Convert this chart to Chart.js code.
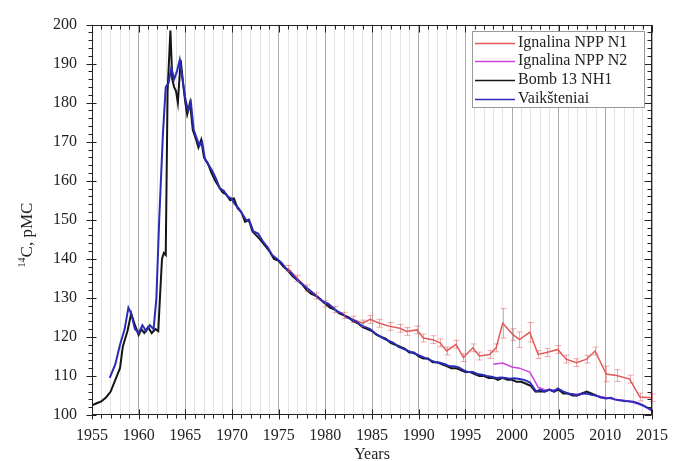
<!DOCTYPE html>
<html><head><meta charset="utf-8">
<script src="https://cdn.jsdelivr.net/npm/chart.js@4/dist/chart.umd.min.js"></script>
<style>html,body{margin:0;padding:0;background:#fff}canvas{display:block}</style>
</head><body>
<canvas id="c" width="679" height="461"></canvas>
<script>
// ---- data ----
const xTickYears = [1955,1960,1965,1970,1975,1980,1985,1990,1995,2000,2005,2010,2015];
const yTickValues = [100,110,120,130,140,150,160,170,180,190,200];

const bombYears = [1955.0,1955.5,1956.0,1956.5,1957.0,1957.5,1958.0,1958.3,1958.8,1959.2,1959.6,1960.0,1960.3,1960.6,1961.0,1961.4,1961.8,1962.1,1962.3,1962.5,1962.7,1962.9,1963.1,1963.4,1963.6,1963.8,1964.0,1964.2,1964.5,1964.8,1965.0,1965.2,1965.5,1965.8,1966.1,1966.4,1966.7,1967.0,1967.4,1967.8,1968.2,1968.6,1969.0,1969.4,1969.8,1970.2,1970.6,1971.0,1971.4,1971.8,1972.2,1972.6,1973.0,1973.5,1974.0,1974.5,1975.0,1975.5,1976.0,1976.5,1977.0,1977.5,1978.0,1978.5,1979.0,1979.5,1980.0,1980.5,1981.0,1981.5,1982.0,1982.5,1983.0,1983.5,1984.0,1984.5,1985.0,1985.5,1986.0,1986.5,1987.0,1987.5,1988.0,1988.5,1989.0,1989.5,1990.0,1990.5,1991.0,1991.5,1992.0,1992.5,1993.0,1993.5,1994.0,1994.5,1995.0,1995.5,1996.0,1996.5,1997.0,1997.5,1998.0,1998.5,1999.0,1999.5,2000.0,2000.5,2001.0,2001.5,2002.0,2002.5,2003.0,2003.5,2004.0,2004.5,2005.0,2005.5,2006.0,2006.5,2007.0,2007.5,2008.0,2008.5,2009.0];
const bombValues = [102.5,103,103.5,104.5,106,109,112,117.5,121.5,126,123,120.5,122,121,122.5,121,122,121.5,131,140,141.5,141,183,198.5,186,184,183,180,191,184,180,177,180,173,171,168.5,170.5,166,164.5,162,160,158.5,157,156.5,155,155.5,153,152,149.5,150,147,146,145,143.5,142,140,139.5,138,137,135.5,134.5,133.5,132,131,130.5,129.5,128.5,127.5,127,126,125.5,125,124,123.5,122.5,122,121.5,120.5,120,119.5,118.5,118,117.5,117,116,116,115,114.5,114.5,113.5,113.5,113,112.5,112,112,111.5,111,111,110.5,110,110,109.5,109.5,109,109.5,109,109,108.5,108.5,108,107.5,106,106,106,106.5,106,106.5,105.5,105.5,105,105,105.5,106,105.5,105];

const vaikYears = [1956.9,1957.5,1958.0,1958.5,1958.9,1959.2,1959.6,1960.0,1960.4,1960.8,1961.2,1961.6,1961.9,1962.2,1962.6,1962.9,1963.2,1963.5,1963.8,1964.1,1964.4,1964.7,1965.0,1965.3,1965.6,1965.9,1966.2,1966.5,1966.8,1967.1,1967.5,1967.9,1968.3,1968.7,1969.1,1969.5,1969.9,1970.3,1970.7,1971.1,1971.5,1971.9,1972.3,1972.8,1973.3,1973.8,1974.3,1974.8,1975.3,1975.8,1976.3,1976.8,1977.3,1977.8,1978.3,1978.8,1979.3,1979.8,1980.3,1980.8,1981.3,1981.8,1982.3,1982.8,1983.3,1983.8,1984.3,1984.8,1985.3,1985.8,1986.3,1986.8,1987.3,1987.8,1988.3,1988.8,1989.3,1989.8,1990.3,1990.8,1991.3,1991.8,1992.3,1992.8,1993.3,1993.8,1994.3,1994.8,1995.3,1995.8,1996.3,1996.8,1997.3,1997.8,1998.3,1998.8,1999.3,1999.8,2000.3,2000.8,2001.3,2001.9,2002.3,2002.6,2003.0,2003.5,2004.0,2004.5,2004.9,2005.5,2006.0,2006.5,2006.9,2007.5,2008.0,2008.5,2009.0,2009.5,2010.1,2010.6,2011.0,2011.5,2012.0,2012.5,2013.0,2013.5,2014.0,2014.4,2015.0];
const vaikValues = [109.5,113,118,122,127.5,126,122,121,123,121.5,123,122,130,150,172,184,185,189,186,188,191,186,181,178,180,173,171,169,170,165.5,164,162.5,160.5,158,157.5,156,155.5,154,153,151.5,150,149.5,147,146.5,144.5,143,141,140,139,137.5,136.5,135,134,133,132,131,130,129,128.5,127.5,126.5,126,125,124.5,124,123,122.5,122,121,120.2,119.5,119,118.5,117.5,117,116.5,116,115.5,115,114.5,114,113.5,113.4,113,112.5,112.5,112.2,111.5,111,111,110.5,110.3,110,109.8,109.5,109.6,109.5,109.3,109.4,109.2,109,108.4,107,106,106.5,106,106.5,106,106.8,106,105.5,105.3,105,105.5,105.5,105.2,105,104.5,104.2,104.4,104,103.8,103.6,103.5,103.4,103,102.5,102,101.3];

const n1Years = [1976.0,1977.0,1978.0,1979.0,1980.0,1981.0,1982.0,1983.0,1984.0,1984.8,1985.8,1986.9,1988.0,1988.7,1989.8,1990.5,1991.5,1992.3,1993.0,1994.0,1994.8,1995.8,1996.5,1997.6,1998.3,1999.0,2000.1,2000.8,2001.9,2002.8,2003.7,2004.9,2005.8,2006.9,2008.0,2008.9,2010.1,2011.2,2012.6,2013.7,2015.0];
const n1Values = [137.5,135,132.5,130.5,128.5,127,125.5,124.5,123.5,124.5,123.5,122.7,122.2,121.4,121.8,119.7,119.3,118.5,116.4,118.1,114.7,117.2,115.1,115.5,117.2,123.5,120.6,119.3,121.2,115.5,116,116.8,114.3,113.4,114.3,116.4,110.5,110.1,109.2,104.6,104.4];
const n1Errors = [0.8,0.8,0.8,0.8,0.8,0.8,0.8,0.8,0.8,1,1,1,1,1,1,1,1,1,1,1,1,1,1,1,1,3.8,1.5,2,2.5,1,1,1,1,1,1,1,2,1.5,1,1,1];

const n2Years = [1998.0,1999.0,2000.0,2000.8,2001.9,2002.5,2002.8,2003.7,2005.0,2006.0,2007.0,2008.0,2009.0,2010.0,2011.0,2012.0,2013.0,2014.0,2015.0];
const n2Values = [113,113.3,112.3,112,111,108.5,107.1,106.3,106.5,105.5,105.3,105.5,105,104.5,104,103.8,103.2,102.5,101];

const seriesNames = ['Ignalina NPP N1','Ignalina NPP N2','Bomb 13 NH1','Vaikšteniai'];
const seriesColors = ['#e25a5a','#cc44dd','#151515','#2b2bb8'];

function pts(xs, ys){ return xs.map((x,i)=>({x:x, y:ys[i]})); }

const SERIF = '"Liberation Serif","Times New Roman",serif';

const decor = {
  id:'decor',
  afterDatasetsDraw(chart){
    const {ctx, scales:{x,y}} = chart;
    ctx.save();
    ctx.strokeStyle='rgba(226,90,90,0.5)';
    ctx.lineWidth=1;
    n1Years.forEach((yr,i)=>{
      const px=Math.round(x.getPixelForValue(yr))+0.5;
      const top=y.getPixelForValue(n1Values[i]+n1Errors[i]);
      const bot=y.getPixelForValue(n1Values[i]-n1Errors[i]);
      ctx.beginPath();
      ctx.moveTo(px,top);ctx.lineTo(px,bot);
      ctx.moveTo(px-3,top);ctx.lineTo(px+3,top);
      ctx.moveTo(px-3,bot);ctx.lineTo(px+3,bot);
      ctx.stroke();
    });
    ctx.restore();
  },
  afterDraw(chart){
    const {ctx, chartArea:a, scales:{x,y}} = chart;
    ctx.save();
    ctx.strokeStyle='#222'; ctx.lineWidth=1;
    const L=Math.round(a.left)+0.5, R=Math.round(a.right)-0.5, T=Math.round(a.top)+0.5, B=Math.round(a.bottom)-0.5;
    ctx.strokeRect(L,T,R-L,B-T);
    ctx.beginPath();
    x.ticks.forEach(t=>{
      const px=Math.round(x.getPixelForValue(t.value))+0.5;
      const major=t.value%5===0;
      ctx.moveTo(px,B-(major?5:0)); ctx.lineTo(px,B+(major?5:4));
      ctx.moveTo(px,T); ctx.lineTo(px,T+(major?7:4));
    });
    y.ticks.forEach(t=>{
      const py=Math.round(y.getPixelForValue(t.value))+0.5;
      const major=t.value%10===0;
      ctx.moveTo(L-(major?6:4),py); ctx.lineTo(L+(major?4:0),py);
      ctx.moveTo(R,py); ctx.lineTo(R-(major?7:4),py);
    });
    ctx.stroke();

    // legend
    const lx=472, ly=31, lw=172, lh=76;
    ctx.fillStyle='#fff';
    ctx.fillRect(lx,ly,lw,lh);
    ctx.strokeStyle='#9a9a9a';
    ctx.strokeRect(lx+0.5,ly+0.5,lw,lh);
    const rows=[43,61,80,99];
    ctx.font='16px '+SERIF;
    ctx.textBaseline='middle'; ctx.textAlign='left';
    seriesNames.forEach((nm,i)=>{
      ctx.strokeStyle=seriesColors[i]; ctx.lineWidth=1.5;
      ctx.beginPath(); ctx.moveTo(475,rows[i]+0.5); ctx.lineTo(515,rows[i]+0.5); ctx.stroke();
      ctx.fillStyle='#222';
      ctx.fillText(nm,518,rows[i]);
    });

    // axis titles
    ctx.fillStyle='#222';
    ctx.textAlign='center'; ctx.textBaseline='middle';
    ctx.font='16px '+SERIF;
    ctx.fillText('Years',(a.left+a.right)/2,455);
    ctx.save();
    ctx.translate(28,235);
    ctx.rotate(-Math.PI/2);
    ctx.textAlign='left';
    const sup='14';
    ctx.font='17px '+SERIF;
    const main='C, pMC';
    const wMain=ctx.measureText(main).width;
    ctx.font='10px '+SERIF;
    const wSup=ctx.measureText(sup).width;
    const start=-(wMain+wSup)/2;
    ctx.fillText(sup,start,-6);
    ctx.font='17px '+SERIF;
    ctx.fillText(main,start+wSup,0);
    ctx.restore();
    ctx.restore();
  }
};

new Chart(document.getElementById('c'),{
  type:'line',
  data:{datasets:[
    {label:seriesNames[0],data:pts(n1Years,n1Values),borderColor:seriesColors[0],borderWidth:1.5,order:3},
    {label:seriesNames[1],data:pts(n2Years,n2Values),borderColor:seriesColors[1],borderWidth:1.5,order:2},
    {label:seriesNames[2],data:pts(bombYears,bombValues),borderColor:seriesColors[2],borderWidth:2,order:1},
    {label:seriesNames[3],data:pts(vaikYears,vaikValues),borderColor:seriesColors[3],borderWidth:2,order:0}
  ]},
  options:{
    responsive:false, animation:false, devicePixelRatio:1,
    layout:{padding:{top:18,right:27,left:0,bottom:0}},
    elements:{point:{radius:0},line:{tension:0}},
    plugins:{legend:{display:false},tooltip:{enabled:false}},
    scales:{
      x:{type:'linear',min:xTickYears[0],max:xTickYears[xTickYears.length-1],
        afterFit:s=>{s.height=46;},
        ticks:{stepSize:1,autoSkip:false,maxRotation:0,padding:11,color:'#222',
          font:{family:SERIF,size:16},
          callback:v=>xTickYears.includes(v)?String(v):''},
        grid:{drawTicks:false,color:c=>(c.tick&&c.tick.value%5===0)?'#a9a9a9':'#e3e3e3',lineWidth:1},
        border:{display:false}},
      y:{type:'linear',min:yTickValues[0],max:yTickValues[yTickValues.length-1],
        afterFit:s=>{s.width=92;},
        ticks:{stepSize:2,autoSkip:false,padding:15,color:'#222',
          font:{family:SERIF,size:16},
          callback:v=>yTickValues.includes(v)?String(v):''},
        grid:{drawOnChartArea:false,drawTicks:false},
        border:{display:false}}
    }
  },
  plugins:[decor]
});
</script>
</body></html>
